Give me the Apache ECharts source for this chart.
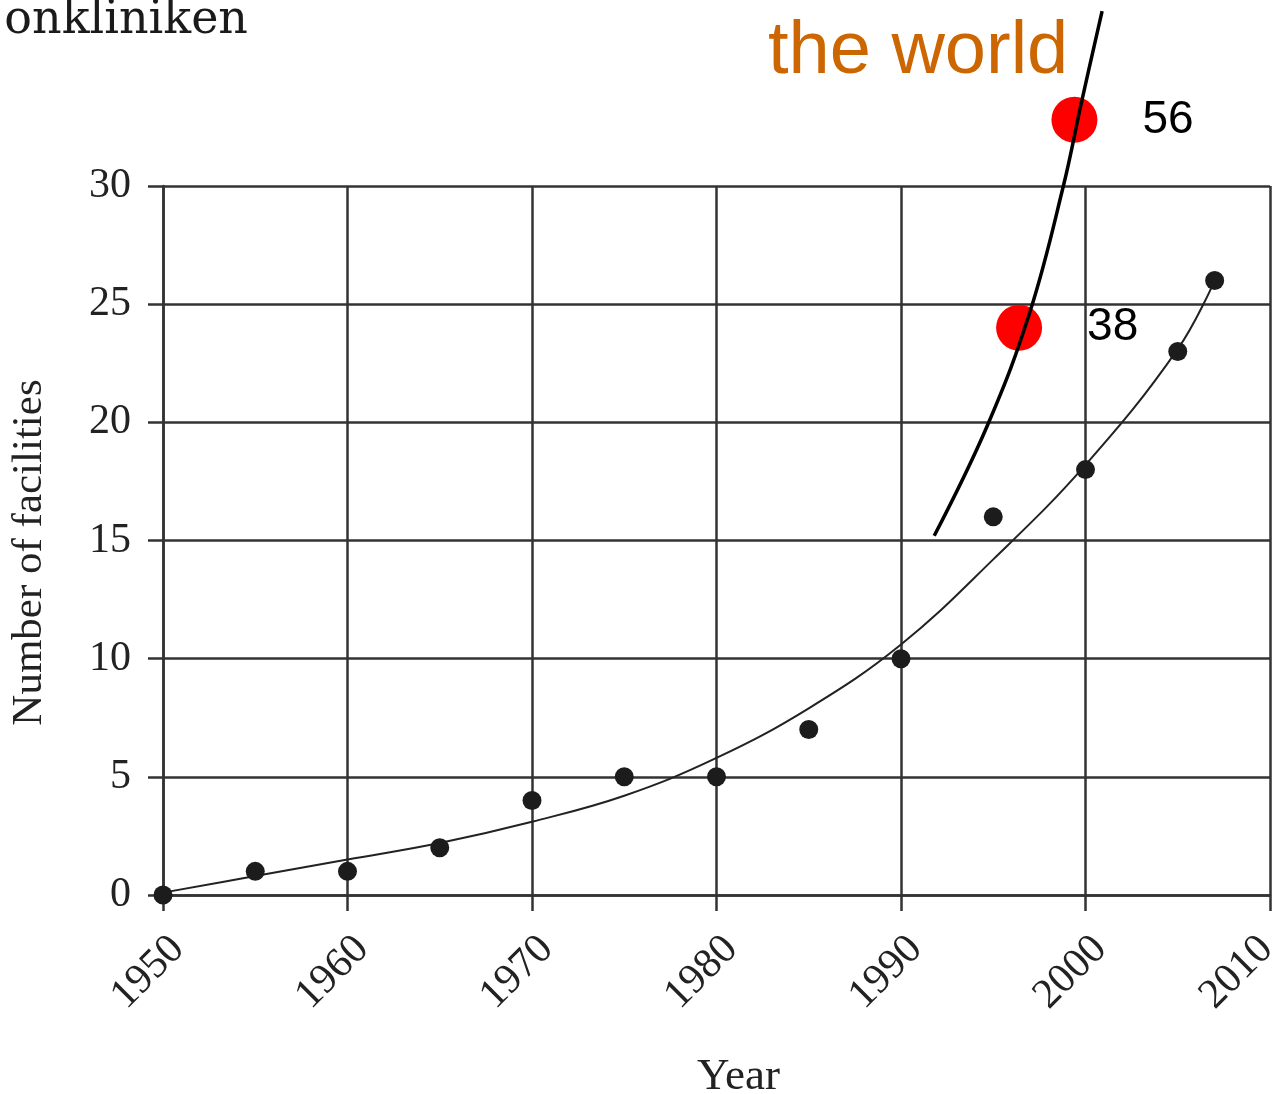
<!DOCTYPE html>
<html>
<head>
<meta charset="utf-8">
<style>
html,body{margin:0;padding:0;background:#fff;}
#chart{width:1272px;height:1094px;}
</style>
<script src="https://cdn.jsdelivr.net/npm/echarts@6/dist/echarts.min.js"></script>
</head>
<body>
<div id="chart"></div>
<script>
// Observed facility counts
var facilityYears  = [1950, 1955, 1960, 1965, 1970, 1975, 1980, 1985, 1990, 1995, 2000, 2005, 2007];
var facilityCounts = [0, 1, 1, 2, 4, 5, 5, 7, 10, 16, 18, 23, 26];

// Fitted trend curve
var curveYears = [1950, 1955, 1960, 1965, 1970, 1975, 1980, 1985, 1990, 1995, 2000, 2005, 2007];
var curveVals  = [0.1, 0.8, 1.5, 2.2, 3.1, 4.2, 5.8, 7.9, 10.6, 14.2, 18.2, 23.1, 26.0];

// "the world" trend line
var worldYears = [1991.8, 1994.7, 1997.0, 1998.8, 1999.8, 2000.9];
var worldVals  = [15.2, 19.9, 24.7, 30.0, 33.6, 37.4];

// Highlighted world points
var worldPointYears  = [1996.4, 1999.4];
var worldPointVals   = [24.0, 32.8];
var worldPointLabels = ['38', '56'];

var xTicks = [1950, 1960, 1970, 1980, 1990, 2000, 2010];
var yTicks = [0, 5, 10, 15, 20, 25, 30];

function zip(a, b) { return a.map(function (v, i) { return [v, b[i]]; }); }

var chart = echarts.init(document.getElementById('chart'), null, {renderer: 'canvas'});
var serif = '"Liberation Serif", "DejaVu Serif", serif';
var sans = '"Liberation Sans", Arial, sans-serif';
var gridColor = '#333333';
var lastX = xTicks[xTicks.length - 1];

var option = {
  animation: false,
  backgroundColor: '#ffffff',
  grid: {left: 163, right: 2, top: 186, bottom: 199, containLabel: false, outerBoundsMode: 'none'},
  xAxis: {
    type: 'value',
    min: xTicks[0], max: lastX, interval: 10,
    name: 'Year', nameLocation: 'middle', nameGap: 160,
    nameTextStyle: {fontFamily: serif, fontSize: 45, color: '#222', padding: [0, 0, 0, 44]},
    axisLine: {show: true, lineStyle: {color: gridColor, width: 2.5}},
    axisTick: {show: true, length: 16, lineStyle: {color: gridColor, width: 2.5}},
    axisLabel: {rotate: 45, margin: 33, verticalAlign: 'top', fontFamily: serif, fontSize: 42, color: '#222',
                formatter: function (v) { return v === lastX ? '{e|' + v + '}' : String(v); },
                rich: {e: {fontFamily: serif, fontSize: 42, color: '#222', padding: [-13, 13, 0, 0]}}},
    splitLine: {show: true, lineStyle: {color: gridColor, width: 2.5}}
  },
  yAxis: {
    type: 'value',
    min: yTicks[0], max: yTicks[yTicks.length - 1], interval: 5,
    name: 'Number of facilities', nameLocation: 'middle', nameGap: 112,
    nameTextStyle: {fontFamily: serif, fontSize: 43, color: '#222', padding: [0, 24, 0, 0]},
    axisLine: {show: true, lineStyle: {color: gridColor, width: 2.5}},
    axisTick: {show: true, length: 15, lineStyle: {color: gridColor, width: 2.5}},
    axisLabel: {margin: 32, fontFamily: serif, fontSize: 42, color: '#222',
                formatter: function (v) { return String(v); }},
    splitLine: {show: true, lineStyle: {color: gridColor, width: 2.5}}
  },
  series: [
    {
      type: 'line', name: 'trend', data: zip(curveYears, curveVals),
      smooth: 0.4, showSymbol: false, clip: false, z: 3,
      lineStyle: {color: '#222', width: 2}
    },
    {
      type: 'scatter', name: 'facilities', data: zip(facilityYears, facilityCounts),
      symbolSize: 19, clip: false, z: 4,
      itemStyle: {color: '#1c1c1c', opacity: 1}
    },
    {
      type: 'scatter', name: 'world points',
      data: worldPointYears.map(function (y, i) { return {value: [y, worldPointVals[i]], label: {formatter: worldPointLabels[i]}}; }),
      symbolSize: 46, clip: false, z: 5,
      itemStyle: {color: '#ff0000', opacity: 1},
      label: {show: true, position: 'right', distance: 45, fontFamily: sans, fontSize: 46, color: '#000', opacity: 1}
    },
    {
      type: 'line', name: 'world', data: zip(worldYears, worldVals),
      smooth: 0.4, showSymbol: false, clip: false, z: 6,
      lineStyle: {color: '#000', width: 3.5}
    }
  ],
  graphic: [
    {type: 'text', x: 248, y: 21, z: 10,
     style: {text: 'onkliniken', font: '46px "DejaVu Serif", serif', fill: '#1a1a1a', textAlign: 'right', textVerticalAlign: 'middle'}},
    {type: 'text', x: 768, y: 53, z: 10,
     style: {text: 'the world', font: '74px ' + sans, fill: '#cc6600', textAlign: 'left', textVerticalAlign: 'middle'}}
  ]
};
chart.setOption(option);
</script>
</body>
</html>
